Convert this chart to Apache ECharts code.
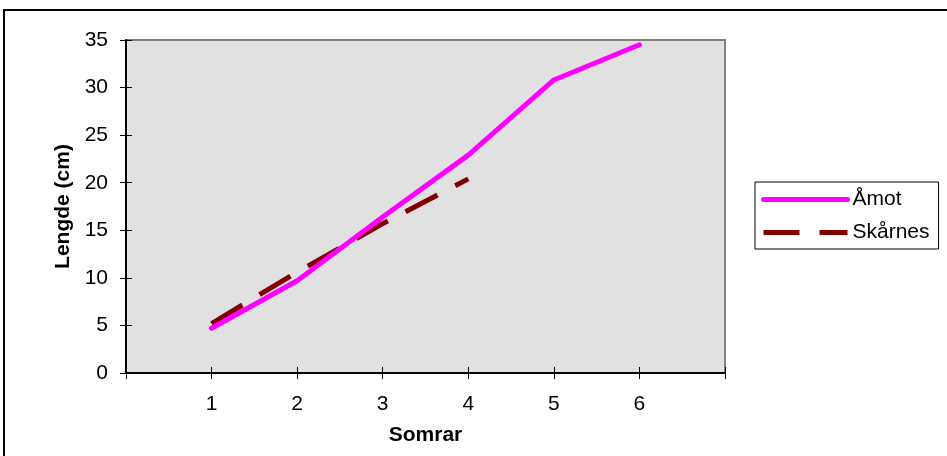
<!DOCTYPE html>
<html>
<head>
<meta charset="utf-8">
<script src="https://cdn.jsdelivr.net/npm/echarts@6/dist/echarts.min.js"></script>
<style>
  html, body { margin: 0; padding: 0; background: #fff; }
  #chart { width: 947px; height: 456px; }
</style>
</head>
<body>
<div id="chart"></div>
<script>
// data
var summers = [1, 2, 3, 4, 5, 6]
var amot = [4.7, 9.7, 16.4, 22.9, 30.8, 34.5]
var skarnes = [5.2, 10.6, 15.7, 20.4]
var yTicks = [0, 5, 10, 15, 20, 25, 30, 35]

function pairs(vals) {
  return vals.map(function (v, i) { return [summers[i], v] })
}

var chart = echarts.init(document.getElementById('chart'))

var fontName = 'Liberation Sans, Arial, sans-serif'
var labelFont = { fontFamily: fontName, fontSize: 21, color: '#000' }
var nameFont = { fontFamily: fontName, fontSize: 21, fontWeight: 'bold', color: '#000' }

chart.setOption({
  animation: false,
  textStyle: { fontFamily: fontName },
  graphic: [{
    type: 'rect',
    shape: { x: 4, y: 10, width: 1000, height: 500 },
    style: { fill: 'none', stroke: '#000', lineWidth: 2 },
    z: -1
  }],
  grid: {
    left: 126, right: 222, top: 40, bottom: 83,
    show: true,
    backgroundColor: '#e1e1e1',
    borderColor: '#808080',
    borderWidth: 2
  },
  legend: {
    orient: 'vertical',
    left: 755, top: 182,
    padding: [7, 9, 6, 6],
    itemWidth: 84, itemHeight: 14, itemGap: 12,
    borderColor: '#000', borderWidth: 1,
    lineStyle: { width: 5 },
    itemStyle: { opacity: 0 },
    textStyle: labelFont,
    data: ['Åmot', 'Skårnes']
  },
  xAxis: [{
    type: 'value',
    min: 0, max: 7, interval: 1,
    name: 'Somrar',
    nameLocation: 'middle',
    nameGap: 52,
    nameTextStyle: nameFont,
    splitLine: { show: false },
    axisLine: { onZero: false, lineStyle: { color: '#000', width: 2 } },
    axisTick: { length: 6, lineStyle: { color: '#000' } },
    axisLabel: Object.assign({
      margin: 21,
      formatter: function (v) { return v >= 1 && v <= 6 ? String(v) : '' }
    }, labelFont)
  }, {
    type: 'value',
    position: 'bottom',
    min: 0, max: 7, interval: 1,
    splitLine: { show: false },
    axisLine: { show: false },
    axisTick: { inside: true, length: 6, lineStyle: { color: '#000' } },
    axisLabel: { show: false }
  }],
  yAxis: [{
    type: 'value',
    min: 0, max: 35, interval: 5,
    name: 'Lengde (cm)',
    nameLocation: 'middle',
    nameGap: 52,
    nameTextStyle: nameFont,
    splitLine: { show: false },
    axisLine: { show: true, lineStyle: { color: '#000', width: 2 } },
    axisTick: { show: true, length: 6, lineStyle: { color: '#000' } },
    axisLabel: Object.assign({
      margin: 18,
      formatter: function (v) { return yTicks.indexOf(v) >= 0 ? String(v) : '' }
    }, labelFont)
  }, {
    type: 'value',
    position: 'left',
    min: 0, max: 35, interval: 5,
    splitLine: { show: false },
    axisLine: { show: false },
    axisTick: { show: true, inside: true, length: 6, lineStyle: { color: '#000' } },
    axisLabel: { show: false }
  }],
  series: [{
    name: 'Åmot',
    type: 'line',
    data: pairs(amot),
    symbol: 'none',
    color: '#ff00ff',
    lineStyle: { color: '#ff00ff', width: 5, cap: 'round' },
    z: 3
  }, {
    name: 'Skårnes',
    type: 'line',
    data: pairs(skarnes),
    symbol: 'none',
    color: '#800000',
    lineStyle: { color: '#800000', width: 5, type: [36, 20] },
    z: 2
  }]
})
</script>
</body>
</html>
